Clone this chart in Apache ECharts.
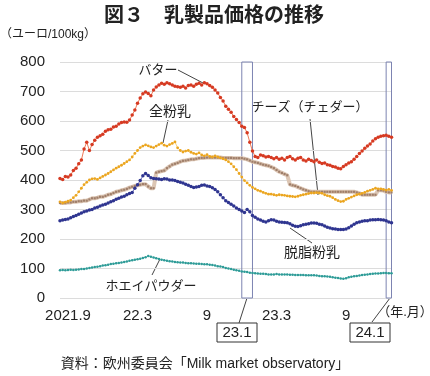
<!DOCTYPE html>
<html><head><meta charset="utf-8">
<script src="https://cdn.jsdelivr.net/npm/echarts@6/dist/echarts.min.js"></script>
<style>html,body{margin:0;padding:0;background:#fff}#c{width:430px;height:376px}</style>
</head><body><div id="c"></div>
<script>
// weekly categories starting 2021-08-23
const startDate = '2021-08-23';
const nWeeks = 125;
const weeks = [];
for (let i = 0; i < nWeeks; i++) {
  const d = new Date(Date.parse(startDate + 'T00:00:00Z') + i * 7 * 864e5);
  weeks.push(d.toISOString().slice(0, 10));
}
const tickLabels = {'2021-09-13':'2021.9','2022-03-14':'22.3','2022-09-12':'9','2023-03-13':'23.3','2023-09-11':'9'};
const yTicks = [0,100,200,300,400,500,600,700,800];
const bandRanges = [['2022-12-12','2023-01-09'],['2023-12-25','2024-01-08']];

const butter = [405,402,412,410,417,432,440,455,468,505,
528,500,520,535,545,550,555,565,570,572,
580,582,590,595,597,596,603,620,637,660,
678,692,698,693,686,705,715,722,728,725,
730,726,722,718,716,714,718,712,720,722,
718,725,728,722,730,726,720,714,705,695,
680,668,650,640,630,615,605,595,582,578,
560,528,498,480,476,485,482,478,480,476,
472,476,470,474,468,476,480,472,468,474,
476,468,464,470,466,462,468,460,456,458,
452,450,446,444,440,438,446,452,458,462,
470,480,490,498,508,515,522,532,540,545,
548,550,552,548,545];
const wmp = [326,322,325,328,332,340,348,360,372,384,
392,400,404,405,402,407,412,417,422,428,
434,440,445,450,456,462,468,478,490,500,
510,515,519,516,512,510,515,520,525,518,
515,520,524,529,509,500,495,498,500,494,
490,488,492,485,482,486,480,478,482,478,
475,472,468,462,455,445,435,422,410,398,
390,382,375,370,365,362,358,355,352,352,
350,348,350,349,348,346,345,344,343,345,
348,350,352,354,356,356,357,356,355,350,
347,345,340,334,330,327,328,334,338,342,
346,350,352,355,358,362,365,368,372,370,
370,368,366,368,365];
const cheese = [322,322,322,324,324,326,326,328,328,330,
330,334,338,338,340,343,343,346,350,352,
356,360,362,365,367,370,374,377,380,382,
384,386,386,378,372,372,425,428,430,432,
440,446,452,455,458,462,465,466,468,470,
470,472,474,475,475,476,476,476,476,476,
476,475,475,475,475,474,474,474,474,472,
470,466,462,460,458,455,452,450,448,444,
440,434,428,424,420,416,385,382,380,376,
372,368,365,362,360,360,360,360,360,360,
360,360,360,360,360,360,360,360,360,360,
360,358,355,350,350,350,350,350,350,365,
365,364,360,358,358];
const smp = [262,264,266,268,272,276,280,284,288,292,
295,298,300,305,308,312,315,318,322,326,
330,335,338,342,345,350,354,358,372,384,
398,414,422,415,408,405,404,403,402,404,
403,400,400,398,395,392,390,386,382,378,
375,376,378,382,383,380,378,374,368,360,
350,340,330,324,318,312,305,300,295,290,
300,292,280,274,268,264,260,258,262,265,
264,260,258,257,256,255,252,247,243,242,
245,248,250,252,254,254,253,250,248,244,
240,237,235,234,232,232,232,234,238,244,
250,255,258,260,262,262,264,265,265,266,
265,264,262,258,255];
const whey = [94,95,94,95,96,95,96,97,98,98,
100,102,103,105,106,108,110,111,113,115,
116,118,119,120,122,124,126,128,130,131,
133,136,138,142,140,137,135,132,130,128,
126,125,124,122,121,120,120,119,118,118,
117,116,116,115,114,114,113,112,110,108,
107,105,102,100,98,96,94,92,90,89,
88,86,85,84,83,82,82,81,80,80,
80,81,80,80,80,80,79,79,78,78,
78,78,77,77,77,77,76,75,74,74,
73,72,70,69,68,66,65,67,70,72,
74,75,76,78,79,80,81,82,83,83,
84,85,85,84,84];

const JP = '"Liberation Sans","Noto Sans CJK JP",sans-serif';
const chart = echarts.init(document.getElementById('c'), null, {renderer:'canvas'});

function lineSeries(name, data, lineColor, lw, dotColor, size, symbol, z) {
  return {
    name, type:'line', data, z,
    symbol: symbol || 'circle', symbolSize: size, showSymbol:true, showAllSymbol:true,
    lineStyle:{color:lineColor, width:lw},
    itemStyle:{color:dotColor, borderWidth:0},
    emphasis:{disabled:true}
  };
}

const txt = (x, y, text, size, extra) => ({
  type:'text', x, y, style:{text, fill:'#222', font: (extra && extra.bold ? 'bold ' : '') + size + 'px ' + JP, textAlign:'center', textVerticalAlign:'middle'}
});
const ln = (x1,y1,x2,y2) => ({type:'line', shape:{x1,y1,x2,y2}, style:{stroke:'#444', lineWidth:1}});

const option = {
  animation:false,
  backgroundColor:'#fff',
  grid:{left:60, right:38.5, top:62, height:236},
  xAxis:{
    type:'category', data:weeks, boundaryGap:false,
    axisLine:{show:false}, axisTick:{show:false}, splitLine:{show:false},
    axisLabel:{
      interval:(idx, val) => tickLabels[val] !== undefined,
      formatter:(val) => tickLabels[val] || '',
      color:'#222', fontSize:15, fontFamily:JP, margin:10
    }
  },
  yAxis:{
    type:'value', min:0, max:800, interval:100,
    axisLine:{show:false}, axisTick:{show:false},
    splitLine:{lineStyle:{color:'#dcdcdc', width:1}},
    axisLabel:{color:'#222', fontSize:15, fontFamily:JP, margin:15}
  },
  series:[
    lineSeries('ホエイパウダー', whey, '#7cc8c3', 1, '#2e9b97', 2.5, 'circle', 2),
    lineSeries('チーズ（チェダー）', cheese, '#dcc6b4', 4, '#a07f6a', 2.2, 'rect', 3),
    lineSeries('全粉乳', wmp, '#f8d27a', 1, '#eba51f', 2.8, 'circle', 4),
    lineSeries('脱脂粉乳', smp, '#6a6ec0', 1, '#2f3590', 3.5, 'circle', 5),
    Object.assign(lineSeries('バター', butter, '#ee7a58', 1, '#d63a22', 3.5, 'circle', 6), {
      markArea:{
        silent:true,
        itemStyle:{color:'rgba(255,255,255,0.15)', borderColor:'#7d84b2', borderWidth:1},
        data: bandRanges.map(r => [{xAxis:r[0]}, {xAxis:r[1]}])
      }
    })
  ],
  graphic:[
    txt(214, 16, '図３　乳製品価格の推移', 20, {bold:true}),
    {type:'text', x:0, y:35, style:{text:'（ユーロ/100kg）', fill:'#222', font:'12px '+JP, textAlign:'left', textVerticalAlign:'middle'}},
    txt(158, 70, 'バター', 13),
    ln(178,70,203,83),
    txt(170, 112, '全粉乳', 14),
    ln(168,120,163,143),
    txt(310, 107, 'チーズ（チェダー）', 13),
    ln(310,119,318,195),
    txt(312, 253, '脱脂粉乳', 14),
    ln(290,228,312,243),
    txt(151, 286, 'ホエイパウダー', 13),
    ln(152,275,160,259),
    {type:'rect', shape:{x:217, y:323, width:40, height:19}, style:{fill:'#fff', stroke:'#333', lineWidth:1}},
    txt(237, 333, '23.1', 15),
    ln(239,323,247,298),
    {type:'rect', shape:{x:350, y:323, width:40, height:19}, style:{fill:'#fff', stroke:'#333', lineWidth:1}},
    txt(370, 333, '24.1', 15),
    ln(372,322,390,298),
    txt(405, 312, '（年.月）', 13),
    txt(205, 364, '資料：欧州委員会「Milk market observatory」', 14)
  ]
};
chart.setOption(option);
</script>
</body></html>
